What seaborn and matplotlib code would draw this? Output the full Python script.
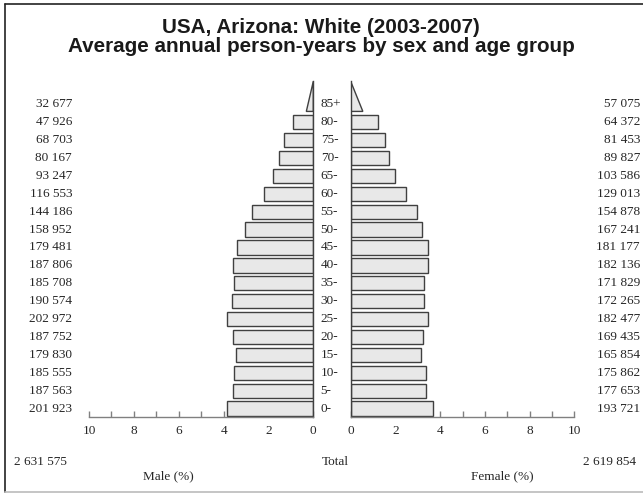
import numpy as np
import pandas as pd
import matplotlib
matplotlib.use("Agg")
import matplotlib.pyplot as plt
import matplotlib.transforms as mtransforms
from matplotlib.lines import Line2D
import seaborn as sns

# ---- data ----
age_groups = ["0-", "5-", "10-", "15-", "20-", "25-", "30-", "35-", "40-",
              "45-", "50-", "55-", "60-", "65-", "70-", "75-", "80-", "85+"]
male_counts = [201923, 187563, 185555, 179830, 187752, 202972, 190574, 185708,
               187806, 179481, 158952, 144186, 116553, 93247, 80167, 68703,
               47926, 32677]
female_counts = [193721, 177653, 175862, 165854, 169435, 182477, 172265,
                 171829, 182136, 181177, 167241, 154878, 129013, 103586,
                 89827, 81453, 64372, 57075]
male_total = 2631575
female_total = 2619854
title_lines = ["USA, Arizona: White (2003-2007)",
               "Average annual person-years by sex and age group"]
tick_values = list(range(0, 11))
tick_labels = [str(v) if v % 2 == 0 else "" for v in tick_values]

def fmt(n):
    return f"{n:,}".replace(",", " ")

grand = male_total + female_total
male_pct = np.array(male_counts) / grand * 100
female_pct = np.array(female_counts) / grand * 100

sns.set_style("white")
plt.rcParams["font.family"] = ["Liberation Serif", "DejaVu Serif"]

W, H = 643, 495
fig = plt.figure(figsize=(W / 100, H / 100), dpi=100)

ax_b = 78 / H
ax_h = 337.8 / H
axL = fig.add_axes([89 / W, ax_b, 224.3 / W, ax_h])
axR = fig.add_axes([350.7 / W, ax_b, 223.6 / W, ax_h])

fill = "#e8e8e8"
edge = "#404040"
n = len(age_groups)
pos = list(range(n - 1))
bar_h = 0.8
tri_h = 1.68
y_bot = (n - 1) - bar_h / 2
y_top = y_bot + tri_h
ylim = (-0.47, 18.4)

dfL = pd.DataFrame({"pos": pos, "pct": male_pct[:-1]})
dfR = pd.DataFrame({"pos": pos, "pct": female_pct[:-1]})

for ax, df, pct85 in ((axL, dfL, male_pct[-1]), (axR, dfR, female_pct[-1])):
    sns.barplot(data=df, x="pct", y="pos", orient="y", native_scale=True,
                color=fill, saturation=1, edgecolor=edge, linewidth=1.0,
                width=bar_h, errorbar=None, ax=ax)
    # open-ended top group drawn as a triangle
    ax.fill([0, pct85 / 2, 0], [y_bot, y_bot, y_top], facecolor=fill,
            edgecolor=edge, linewidth=1.0)
    ax.set_ylim(*ylim)
    ax.set_xticks(tick_values)
    ax.set_xticklabels(tick_labels, fontsize=9.5)
    ax.set_yticks([])
    ax.set_xlabel("")
    ax.set_ylabel("")
    ax.tick_params(axis="x", direction="in", length=4, width=1,
                   color="#808080", pad=6, bottom=True)
    for s in ax.spines.values():
        s.set_visible(False)
    ax.spines["bottom"].set_visible(True)
    ax.spines["bottom"].set_color("#808080")
    ax.spines["bottom"].set_linewidth(1.0)
    ax.patch.set_alpha(0)

axL.set_xlim(10, 0)
axR.set_xlim(0, 10)
for ax, side in ((axL, "right"), (axR, "left")):
    sp = ax.spines[side]
    sp.set_visible(True)
    sp.set_color(edge)
    sp.set_linewidth(1.0)
    sp.set_bounds(ylim[0], y_top)

# labels
fs = 9.5
trL = mtransforms.blended_transform_factory(fig.transFigure, axL.transData)
for i, (ag, mc, fc) in enumerate(zip(age_groups, male_counts, female_counts)):
    axL.text(320.7 / W, i, ag, transform=trL, ha="left", va="center", fontsize=fs)
    axL.text(72 / W, i, fmt(mc), transform=trL, ha="right", va="center", fontsize=fs)
    axL.text(640 / W, i, fmt(fc), transform=trL, ha="right", va="center", fontsize=fs)

fig.text(14 / W, 1 - 461.7 / H, fmt(male_total), ha="left", va="center", fontsize=fs)
fig.text(335 / W, 1 - 461.7 / H, "Total", ha="center", va="center", fontsize=fs)
fig.text(636 / W, 1 - 461.7 / H, fmt(female_total), ha="right", va="center", fontsize=fs)
fig.text(168 / W, 1 - 476.7 / H, "Male (%)", ha="center", va="center", fontsize=fs)
fig.text(502 / W, 1 - 476.7 / H, "Female (%)", ha="center", va="center", fontsize=fs)

fig.text(321 / W, 1 - 33 / H, title_lines[0], ha="center", va="baseline",
         fontsize=14.9, fontweight="bold", family=["Liberation Sans", "DejaVu Sans"],
         color="#1a1a1a")
fig.text(321 / W, 1 - 52 / H, title_lines[1], ha="center", va="baseline",
         fontsize=14.9, fontweight="bold", family=["Liberation Sans", "DejaVu Sans"],
         color="#1a1a1a")

# frame
fig.add_artist(Line2D([5 / W, 5 / W], [1 - 4 / H, 1 - 491.5 / H],
                      transform=fig.transFigure, color="#222222", lw=1.2))
fig.add_artist(Line2D([5 / W, 1], [1 - 4 / H, 1 - 4 / H],
                      transform=fig.transFigure, color="#222222", lw=1.2))
fig.add_artist(Line2D([5 / W, 1], [1 - 491.5 / H, 1 - 491.5 / H],
                      transform=fig.transFigure, color="#bbbbbb", lw=1.2))

fig.savefig("out.png", dpi=100)
